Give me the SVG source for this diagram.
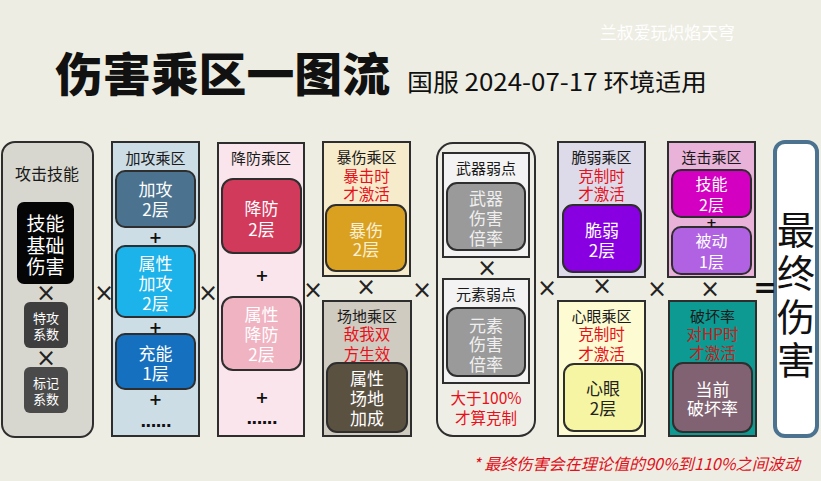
<svg xmlns="http://www.w3.org/2000/svg" width="821" height="481" viewBox="0 0 821 481">
<style>
text{font-family:"Noto Sans CJK SC","Noto Sans",sans-serif;text-anchor:middle;dominant-baseline:central}
.box{stroke:#2e2e2e;stroke-width:2}
.h{font-size:15px;fill:#1a1a1a}
.red{font-size:15.5px;fill:#e8101a}
.w{font-size:17px;fill:#fff}
.op{font-size:24px;fill:#222;font-family:"DejaVu Sans",sans-serif}
.plus{font-size:16px;font-weight:bold;fill:#111;font-family:"DejaVu Sans",sans-serif}
.dots{font-size:16px;font-weight:bold;fill:#111;font-family:"DejaVu Sans",sans-serif;letter-spacing:-1px}
</style>
<rect width="821" height="481" fill="#eeede3"/>

<g id="header">
<text x="55" y="71" style="text-anchor:start;font-size:46px;font-weight:900;fill:#111" textLength="335" lengthAdjust="spacingAndGlyphs">伤害乘区一图流</text>
<text x="407" y="80" style="text-anchor:start;font-size:24px;fill:#111" textLength="300" lengthAdjust="spacingAndGlyphs">国服 2024-07-17 环境适用</text>
<text x="600" y="31" style="text-anchor:start;font-size:17px;fill:#fff" textLength="135" lengthAdjust="spacingAndGlyphs">兰叔爱玩炽焰天穹</text>
</g>

<g id="skill">
<rect class="box" x="2" y="142" width="91" height="295" rx="13" fill="#d8d7cf"/>
<text x="47" y="173" style="font-size:16px;fill:#1a1a1a">攻击技能</text>
<rect x="17" y="202" width="57" height="82" rx="7" fill="#050505"/>
<text x="45.5" y="222" style="font-size:19px;fill:#fff"><tspan x="45.5" y="222">技能</tspan><tspan x="45.5" y="243.5">基础</tspan><tspan x="45.5" y="265">伤害</tspan></text>
<rect x="24" y="302" width="44" height="46" rx="6" fill="#3e3e3e"/>
<text x="46" y="317" style="font-size:13px;fill:#fff"><tspan x="46" y="317">特攻</tspan><tspan x="46" y="333">系数</tspan></text>
<rect x="24" y="367" width="44" height="46" rx="6" fill="#4a4a4a"/>
<text x="46" y="382" style="font-size:13px;fill:#fff"><tspan x="46" y="382">标记</tspan><tspan x="46" y="398">系数</tspan></text>
</g>

<g id="atk">
<rect class="box" x="112" y="142" width="87" height="294" fill="#cddde6"/>
<text class="h" x="155.5" y="157">加攻乘区</text>
<rect class="box" x="116" y="171" width="79" height="56" rx="9" fill="#4b7390"/>
<text class="w" x="155.5" y="188"><tspan x="155.5" y="188">加攻</tspan><tspan x="155.5" y="208">2层</tspan></text>
<rect class="box" x="116" y="246" width="79" height="71" rx="9" fill="#1cb2ea"/>
<text class="w" x="155.5" y="262"><tspan x="155.5" y="262">属性</tspan><tspan x="155.5" y="282">加攻</tspan><tspan x="155.5" y="302">2层</tspan></text>
<rect class="box" x="116" y="334" width="79" height="55" rx="9" fill="#1570c0"/>
<text class="w" x="155.5" y="352"><tspan x="155.5" y="352">充能</tspan><tspan x="155.5" y="372">1层</tspan></text>
</g>

<g id="def">
<rect class="box" x="218" y="143" width="86" height="293" fill="#f9e5eb"/>
<text class="h" x="261" y="157">降防乘区</text>
<rect class="box" x="222" y="179" width="79" height="74" rx="11" fill="#d23a5c"/>
<text class="w" x="261.5" y="207"><tspan x="261.5" y="207">降防</tspan><tspan x="261.5" y="228">2层</tspan></text>
<rect class="box" x="222" y="297" width="79" height="73" rx="11" fill="#f0b3c1"/>
<text class="w" x="261.5" y="313"><tspan x="261.5" y="313">属性</tspan><tspan x="261.5" y="333">降防</tspan><tspan x="261.5" y="353">2层</tspan></text>
</g>

<g id="crit">
<rect class="box" x="323" y="142" width="87" height="134" fill="#f6ebcb"/>
<text class="h" x="366.5" y="156"><tspan x="366.5" y="156">暴伤乘区</tspan><tspan class="red" x="366.5" y="175">暴击时</tspan><tspan class="red" x="366.5" y="193">才激活</tspan></text>
<rect class="box" x="326" y="205" width="80" height="66" rx="10" fill="#daa020"/>
<text class="w" x="366" y="229" style="fill:#fbf0d6"><tspan x="366" y="229">暴伤</tspan><tspan x="366" y="248">2层</tspan></text>
</g>

<g id="field">
<rect class="box" x="323" y="301" width="88" height="135" fill="#d0cbc1"/>
<text class="h" x="367" y="315"><tspan x="367" y="315">场地乘区</tspan><tspan class="red" x="367" y="333">敌我双</tspan><tspan class="red" x="367" y="353">方生效</tspan></text>
<rect class="box" x="327" y="363" width="80" height="69" rx="10" fill="#5b5141"/>
<text class="w" x="367" y="377"><tspan x="367" y="377">属性</tspan><tspan x="367" y="397">场地</tspan><tspan x="367" y="417">加成</tspan></text>
</g>

<g id="weak">
<rect class="box" x="437" y="143" width="98" height="293" rx="16" fill="#efeee6"/>
<rect class="box" x="443" y="153" width="86" height="104" fill="#f3f3f3"/>
<text class="h" x="486" y="167">武器弱点</text>
<rect class="box" x="447" y="183" width="78" height="67" rx="10" fill="#9a9a9a"/>
<text class="w" x="486" y="197" style="fill:#efefef"><tspan x="486" y="197">武器</tspan><tspan x="486" y="217">伤害</tspan><tspan x="486" y="237">倍率</tspan></text>
<rect class="box" x="443" y="279" width="86" height="104" fill="#f3f3f3"/>
<text class="h" x="486" y="293">元素弱点</text>
<rect class="box" x="447" y="308" width="78" height="68" rx="10" fill="#9a9a9a"/>
<text class="w" x="486" y="324" style="fill:#efefef"><tspan x="486" y="324">元素</tspan><tspan x="486" y="343">伤害</tspan><tspan x="486" y="363">倍率</tspan></text>
<text class="red" x="486" y="397"><tspan x="486" y="397">大于100%</tspan><tspan x="486" y="417">才算克制</tspan></text>
</g>

<g id="vuln">
<rect class="box" x="558" y="142" width="87" height="135" fill="#dddbe9"/>
<text class="h" x="601.5" y="156"><tspan x="601.5" y="156">脆弱乘区</tspan><tspan class="red" x="601.5" y="175">克制时</tspan><tspan class="red" x="601.5" y="193">才激活</tspan></text>
<rect class="box" x="563" y="205" width="78" height="67" rx="10" fill="#8800e2"/>
<text class="w" x="602" y="229"><tspan x="602" y="229">脆弱</tspan><tspan x="602" y="249">2层</tspan></text>
</g>

<g id="mind">
<rect class="box" x="558" y="301" width="87" height="135" fill="#fdfbd2"/>
<text class="h" x="601.5" y="315"><tspan x="601.5" y="315">心眼乘区</tspan><tspan class="red" x="601.5" y="333">克制时</tspan><tspan class="red" x="601.5" y="353">才激活</tspan></text>
<rect class="box" x="564" y="364" width="78" height="67" rx="10" fill="#f5f5a3"/>
<text class="w" x="603" y="387" style="fill:#222"><tspan x="603" y="387">心眼</tspan><tspan x="603" y="407">2层</tspan></text>
</g>

<g id="combo">
<rect class="box" x="668" y="142" width="87" height="135" fill="#e9b2d9"/>
<text class="h" x="711.5" y="156">连击乘区</text>
<rect class="box" x="672" y="170" width="79" height="47" rx="9" fill="#d300c2"/>
<text class="w" x="711.5" y="183" style="font-size:16px"><tspan x="711.5" y="183">技能</tspan><tspan x="711.5" y="204">2层</tspan></text>
<rect class="box" x="672" y="227" width="79" height="47" rx="9" fill="#b062e2"/>
<text class="w" x="711.5" y="240" style="font-size:16px"><tspan x="711.5" y="240">被动</tspan><tspan x="711.5" y="261">1层</tspan></text>
</g>

<g id="break">
<rect class="box" x="669" y="301" width="87" height="135" fill="#0c9a92"/>
<text class="h" x="712.5" y="315"><tspan x="712.5" y="315">破坏率</tspan><tspan class="red" x="712.5" y="333" style="fill:#c4201c">对HP时</tspan><tspan class="red" x="712.5" y="352" style="fill:#c4201c">才激活</tspan></text>
<rect class="box" x="673" y="363" width="79" height="69" rx="10" fill="#816272"/>
<text class="w" x="712.5" y="388"><tspan x="712.5" y="388">当前</tspan><tspan x="712.5" y="407">破坏率</tspan></text>
</g>

<g id="final">
<rect x="775" y="142" width="42" height="294" rx="10" fill="#fff" stroke="#4b7390" stroke-width="4"/>
<text x="796" y="227" style="font-size:38px;fill:#111"><tspan x="796" y="227">最</tspan><tspan x="796" y="270">终</tspan><tspan x="796" y="314">伤</tspan><tspan x="796" y="357">害</tspan></text>
</g>

<g id="operators">
<text class="op" x="46" y="293">×</text>
<text class="op" x="46" y="358">×</text>
<text class="op" x="104" y="293">×</text>
<text class="plus" x="155.5" y="237">+</text>
<text class="plus" x="155.5" y="327">+</text>
<text class="plus" x="155.5" y="399">+</text>
<text class="dots" x="155.5" y="421">......</text>
<text class="op" x="208" y="293">×</text>
<text class="plus" x="262" y="275">+</text>
<text class="plus" x="262" y="397">+</text>
<text class="dots" x="261.5" y="418">......</text>
<text class="op" x="313" y="290">×</text>
<text class="op" x="366" y="287">×</text>
<text class="op" x="422" y="290">×</text>
<text class="op" x="487" y="268">×</text>
<text class="op" x="547" y="288">×</text>
<text class="op" x="602" y="286">×</text>
<text class="op" x="657" y="289">×</text>
<text class="plus" x="711.5" y="222" style="font-size:13px">+</text>
<text class="op" x="710" y="289">×</text>
<text x="765" y="287" style="font-size:28px;font-weight:bold;fill:#111;font-family:'DejaVu Sans',sans-serif">=</text>
</g>

<g id="note">
<text x="636.5" y="463" style="font-size:16px;font-style:italic;fill:#e01020" textLength="327" lengthAdjust="spacingAndGlyphs">* 最终伤害会在理论值的90%到110%之间波动</text>
</g>
</svg>
